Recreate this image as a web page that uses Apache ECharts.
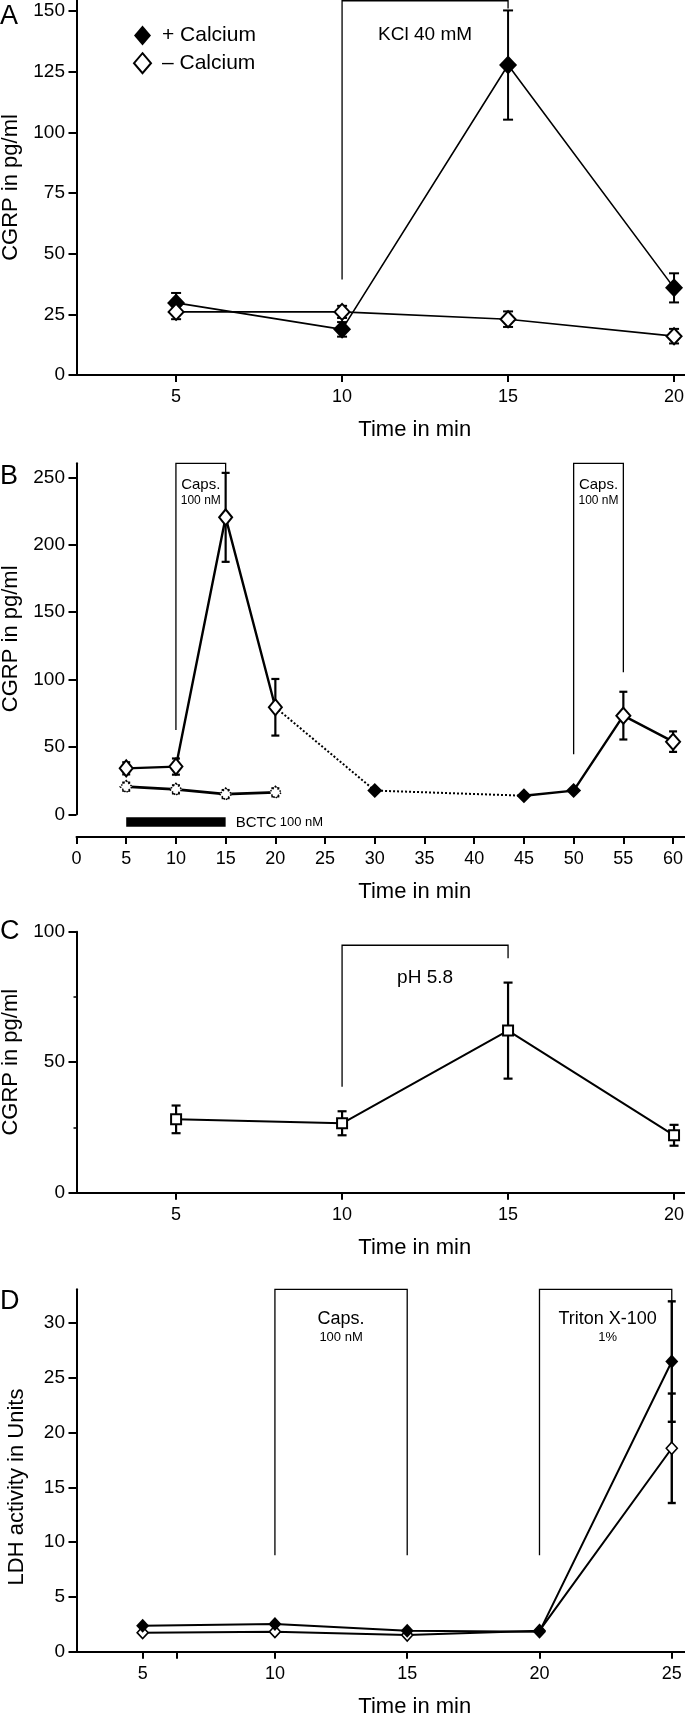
<!DOCTYPE html>
<html><head><meta charset="utf-8">
<script src="https://cdn.jsdelivr.net/npm/echarts@6/dist/echarts.min.js"></script>
<style>html,body{margin:0;padding:0;background:#fff}#c{width:685px;height:1714px}</style>
</head><body><div id="c"></div>
<script>
// ---------- Panel A : CGRP, KCl stimulation ----------
const aTime = [5, 10, 15, 20];
const aPlusCa = [29.7, 18.8, 127.7, 35.9];
const aPlusCaErr = [4.1, 3, 22.5, 6];
const aMinusCa = [26, 26, 23, 16];
const aMinusCaErr = [3, 2.5, 3.2, 3];
const aTicksX = [5, 10, 15, 20];
const aTicksY = [0, 25, 50, 75, 100, 125, 150];
const aWindows = [[10, 15]];
const aWindowLabels = ['KCl 40 mM'];

// ---------- Panel B : CGRP, capsaicin +/- BCTC ----------
const bTime = [5, 10, 15, 20];
const bCaps = [34.1, 35.4, 220.3, 79.4];
const bCapsErr = [4.5, 6, 33, 21];
const bBctc = [20.5, 18.5, 15, 16.3];
const bBctcErr = [3, 3, 3, 3];
const bMidTime = [30, 45, 50];
const bMid = [17.6, 13.8, 17.6];
const bStim2Time = [55, 60];
const bStim2 = [73.2, 53.9];
const bStim2Err = [17.7, 7.6];
const bTicksX = [0, 5, 10, 15, 20, 25, 30, 35, 40, 45, 50, 55, 60];
const bTicksY = [0, 50, 100, 150, 200, 250];
const bWindows = [[10, 15], [50, 55]];
const bWindowLabels = ['Caps.', 'Caps.'];
const bWindowSub = ['100 nM', '100 nM'];
const bBctcWindow = [5, 15];
const bBctcLabel = 'BCTC';
const bBctcSub = '100 nM';

// ---------- Panel C : CGRP, pH 5.8 ----------
const cTime = [5, 10, 15, 20];
const cVal = [28.1, 26.6, 62.1, 22];
const cErr = [5.3, 4.6, 18.4, 4];
const cTicksX = [5, 10, 15, 20];
const cWindows = [[10, 15]];
const cWindowLabels = ['pH 5.8'];

// ---------- Panel D : LDH activity ----------
const dTime = [5, 10, 15, 20, 25];
const dPlusCa = [2.38, 2.53, 1.92, 1.83, 26.5];
const dPlusCaErr = [0, 0, 0, 0, 5.5];
const dMinusCa = [1.74, 1.83, 1.52, 1.92, 18.58];
const dMinusCaErr = [0, 0, 0, 0, 5];
const dLabelsX = [5, 10, 15, 20, 25];
const dTicksX = [5, 6.3, 10, 15, 20, 25];
const dTicksY = [0, 5, 10, 15, 20, 25, 30];
const dWindows = [[10, 15], [20, 25]];
const dWindowLabels = ['Caps.', 'Triton X-100'];
const dWindowSub = ['100 nM', '1%'];

const FONT = "'Liberation Sans', Arial, Helvetica, sans-serif";
const BLACK = '#000';

const zip = (xs, ys) => xs.map((x, i) => [x, ys[i]]);
const zip3 = (xs, ys, es) => xs.map((x, i) => [x, ys[i], es[i]]);

const grids = [
  {left: 76.5, top: 0, width: 608.5, height: 375},
  {left: 76.5, top: 463.3, width: 608.5, height: 351},
  {left: 76.5, top: 931.7, width: 608.5, height: 261},
  {left: 76.5, top: 1289.3, width: 608.5, height: 362.4}
].map(g => Object.assign({outerBoundsMode: 'none', containLabel: false}, g));

function xAxis(gi, min, max, ticks, labels, offset) {
  return {
    type: 'value', gridIndex: gi, min, max, offset: offset || 0,
    splitLine: {show: false},
    axisLine: {onZero: false, lineStyle: {color: BLACK, width: 2}},
    axisTick: {length: 7, lineStyle: {color: BLACK, width: 2}, customValues: ticks},
    axisLabel: {customValues: labels, margin: 13, fontSize: 18, color: BLACK, fontFamily: FONT},
    name: 'Time in min', nameLocation: 'middle', nameGap: 44,
    nameTextStyle: {fontSize: 22, color: BLACK, fontFamily: FONT, padding: [0, 0, 0, 68]}
  };
}
function yAxis(gi, min, max, ticks, name, extra) {
  const ax = {
    type: 'value', gridIndex: gi, min, max,
    splitLine: {show: false},
    axisLine: {onZero: false, lineStyle: {color: BLACK, width: 2}},
    axisTick: {length: 8, lineStyle: {color: BLACK, width: 2}},
    axisLabel: {margin: 11.5, fontSize: 19, color: BLACK, fontFamily: FONT},
    name, nameLocation: 'middle', nameGap: 49, nameRotate: 90,
    nameTextStyle: {fontSize: 22, color: BLACK, fontFamily: FONT}
  };
  if (ticks) { ax.axisTick.customValues = ticks; ax.axisLabel.customValues = ticks; }
  return Object.assign(ax, extra || {});
}

function errSeries(gi, data, cap, lw) {
  return {
    type: 'custom', xAxisIndex: gi, yAxisIndex: gi, z: 1, silent: true,
    encode: {x: 0, y: 1},
    data: data.filter(d => d[2] > 0),
    renderItem: (params, api) => {
      const x = api.value(0), y = api.value(1), e = api.value(2);
      const t = api.coord([x, y + e]), b = api.coord([x, y - e]);
      const st = {stroke: BLACK, lineWidth: lw};
      return {type: 'group', children: [
        {type: 'line', shape: {x1: t[0], y1: t[1], x2: b[0], y2: b[1]}, style: st},
        {type: 'line', shape: {x1: t[0] - cap, y1: t[1], x2: t[0] + cap, y2: t[1]}, style: st},
        {type: 'line', shape: {x1: b[0] - cap, y1: b[1], x2: b[0] + cap, y2: b[1]}, style: st}
      ]};
    }
  };
}

function bracketSeries(gi, windows, labels, subs, cfg) {
  return {
    type: 'custom', xAxisIndex: gi, yAxisIndex: gi, z: 1, silent: true,
    encode: {x: [0, 1]},
    data: windows.map((w, i) => [w[0], w[1], i]),
    renderItem: (params, api) => {
      const s = api.value(0), e = api.value(1), i = api.value(2);
      const c = cfg[i];
      const pL = api.coord([s, c.left]), p1 = api.coord([s, c.top]),
            p2 = api.coord([e, c.top]), pR = api.coord([e, c.right]);
      const cx = (p1[0] + p2[0]) / 2 + (c.dx || 0);
      const ch = [
        {type: 'polyline', shape: {points: [pL, p1, p2, pR]},
         style: {stroke: BLACK, lineWidth: 1.3, fill: 'none'}},
        {type: 'text', style: {text: labels[i], x: cx, y: p1[1] + c.dy, align: 'center',
          verticalAlign: 'middle', fontSize: c.fs, fontFamily: FONT, fill: BLACK}}
      ];
      if (subs) ch.push({type: 'text', style: {text: subs[i], x: cx, y: p1[1] + c.dy2,
        align: 'center', verticalAlign: 'middle', fontSize: c.fs2, fontFamily: FONT, fill: BLACK}});
      return {type: 'group', children: ch};
    }
  };
}

function lineSeries(name, gi, data, o) {
  return Object.assign({
    name, type: 'line', xAxisIndex: gi, yAxisIndex: gi, data, z: 3,
    symbol: 'diamond', symbolSize: 14, showSymbol: true, animation: false,
    lineStyle: {color: BLACK, width: 2},
    itemStyle: {color: BLACK, borderColor: BLACK, borderWidth: 0, opacity: 1}
  }, o || {});
}
const openStyle = w => ({color: '#fff', borderColor: BLACK, borderWidth: w, opacity: 1});

const series = [
  // Panel A
  bracketSeries(0, aWindows, aWindowLabels, null, [{left: 39.3, top: 154.2, right: 151, dy: 33.6, fs: 19}]),
  errSeries(0, zip3(aTime, aPlusCa, aPlusCaErr), 5, 2),
  errSeries(0, zip3(aTime, aMinusCa, aMinusCaErr), 5, 2),
  lineSeries('+ Calcium', 0, zip(aTime, aPlusCa), {symbolSize: [18, 19], lineStyle: {color: BLACK, width: 1.6}}),
  lineSeries('– Calcium', 0, zip(aTime, aMinusCa), {symbolSize: [15, 16], lineStyle: {color: BLACK, width: 1.6}, itemStyle: openStyle(2)}),

  // Panel B
  bracketSeries(1, bWindows, bWindowLabels, bWindowSub, [
    {left: 62.6, top: 260.4, right: 254, dy: 22, dy2: 37, fs: 15, fs2: 12},
    {left: 44.5, top: 260.4, right: 105.3, dy: 22, dy2: 37, fs: 15, fs2: 12}
  ]),
  {
    type: 'custom', xAxisIndex: 1, yAxisIndex: 1, z: 1, silent: true, encode: {x: [0, 1]},
    data: [[bBctcWindow[0], bBctcWindow[1]]],
    renderItem: (params, api) => {
      const a = api.coord([api.value(0), 0]), b = api.coord([api.value(1), 0]);
      return {type: 'group', children: [
        {type: 'rect', shape: {x: a[0], y: a[1] + 3, width: b[0] - a[0], height: 9.5}, style: {fill: BLACK}},
        {type: 'text', style: {text: '{a|' + bBctcLabel + '} {b|' + bBctcSub + '}', x: b[0] + 10, y: a[1] + 8.5,
          verticalAlign: 'middle', align: 'left', fill: BLACK, fontFamily: FONT,
          rich: {a: {fontSize: 15, fontFamily: FONT, fill: BLACK}, b: {fontSize: 13, fontFamily: FONT, fill: BLACK}}}}
      ]};
    }
  },
  errSeries(1, zip3(bTime, bCaps, bCapsErr), 4, 2.2),
  errSeries(1, zip3(bTime, bBctc, bBctcErr), 4, 2.2),
  errSeries(1, zip3(bStim2Time, bStim2, bStim2Err), 4, 2.2),
  lineSeries('B wash', 1, [zip(bTime, bCaps)[bTime.length - 1]].concat(zip(bMidTime.slice(0, 2), bMid.slice(0, 2))),
    {symbol: 'none', lineStyle: {color: BLACK, width: 2, type: 'dotted'}, z: 2}),
  lineSeries('B stim2', 1, zip(bMidTime.slice(1), bMid.slice(1)).concat(zip(bStim2Time, bStim2)),
    {symbol: 'none', lineStyle: {color: BLACK, width: 2.4}, z: 2}),
  lineSeries('B caps', 1, zip(bTime, bCaps), {symbolSize: [13, 16], lineStyle: {color: BLACK, width: 2.4}, itemStyle: openStyle(2)}),
  lineSeries('B bctc', 1, zip(bTime, bBctc), {symbolSize: [12, 12], lineStyle: {color: BLACK, width: 2.6},
    itemStyle: {color: '#fff', borderColor: BLACK, borderWidth: 1.5, borderType: 'dotted', opacity: 1}}),
  {type: 'scatter', xAxisIndex: 1, yAxisIndex: 1, z: 4, symbol: 'diamond', symbolSize: [15, 15], animation: false,
   data: zip(bMidTime, bMid), itemStyle: {color: BLACK, opacity: 1}},
  {type: 'scatter', xAxisIndex: 1, yAxisIndex: 1, z: 4, symbol: 'diamond', symbolSize: [14, 16], animation: false,
   data: zip(bStim2Time, bStim2), itemStyle: openStyle(2)},

  // Panel C
  bracketSeries(2, cWindows, cWindowLabels, null, [{left: 40.6, top: 94.8, right: 89.8, dy: 32.4, fs: 19}]),
  errSeries(2, zip3(cTime, cVal, cErr), 4.5, 2.2),
  lineSeries('C pH', 2, zip(cTime, cVal), {symbol: 'rect', symbolSize: [10, 10], lineStyle: {color: BLACK, width: 2}, itemStyle: openStyle(2)}),

  // Panel D
  bracketSeries(3, dWindows, dWindowLabels, dWindowSub, [
    {left: 8.8, top: 33.1, right: 8.8, dy: 29.4, dy2: 48.5, fs: 18, fs2: 13},
    {left: 8.8, top: 33.1, right: 32, dy: 29.4, dy2: 48.5, fs: 18, fs2: 13, dx: 2}
  ]),
  errSeries(3, zip3(dTime, dPlusCa, dPlusCaErr), 4, 2.4),
  errSeries(3, zip3(dTime, dMinusCa, dMinusCaErr), 4, 2.4),
  lineSeries('D minus', 3, zip(dTime, dMinusCa), {symbolSize: [11, 12], lineStyle: {color: BLACK, width: 2}, itemStyle: openStyle(1.6)}),
  lineSeries('D plus', 3, zip(dTime, dPlusCa), {symbolSize: [13, 14], lineStyle: {color: BLACK, width: 2}})
];

const letter = (t, y) => ({type: 'text', x: 0, y, style: {text: t, fontSize: 27, fontFamily: FONT, fill: BLACK, verticalAlign: 'middle', align: 'left'}});

const option = {
  animation: false,
  backgroundColor: '#fff',
  grid: grids,
  xAxis: [
    xAxis(0, 2, 20.33, aTicksX, aTicksX, 0),
    xAxis(1, 0, 61.2, bTicksX, bTicksX, 22.7),
    xAxis(2, 2, 20.33, cTicksX, cTicksX, 0),
    xAxis(3, 2.5, 25.5, dTicksX, dLabelsX, 0)
  ],
  yAxis: [
    yAxis(0, 0, 154.5, aTicksY, 'CGRP in pg/ml'),
    yAxis(1, 0, 260.4, bTicksY, 'CGRP in pg/ml'),
    yAxis(2, 0, 100, null, 'CGRP in pg/ml', {interval: 50,
      minorTick: {show: true, splitNumber: 2, length: 3, lineStyle: {color: BLACK, width: 1.5}}}),
    yAxis(3, 0, 33.1, dTicksY, 'LDH activity in Units')
  ],
  legend: {
    data: [{name: '+ Calcium', icon: 'diamond'}, {name: '– Calcium', icon: 'diamond'}],
    orient: 'vertical', left: 128, top: 20, itemWidth: 17, itemHeight: 20, itemGap: 6.2,
    selectedMode: false,
    textStyle: {fontSize: 21, fontFamily: FONT, color: BLACK, padding: [0, 0, 0, 6]}
  },
  graphic: [letter('A', 16.3), letter('B', 477), letter('C', 932), letter('D', 1302)],
  series
};
option.yAxis[3].nameTextStyle.padding = [0, 33, 0, 0];

const chart = echarts.init(document.getElementById('c'), null, {renderer: 'canvas'});
chart.setOption(option);
</script>
</body></html>
